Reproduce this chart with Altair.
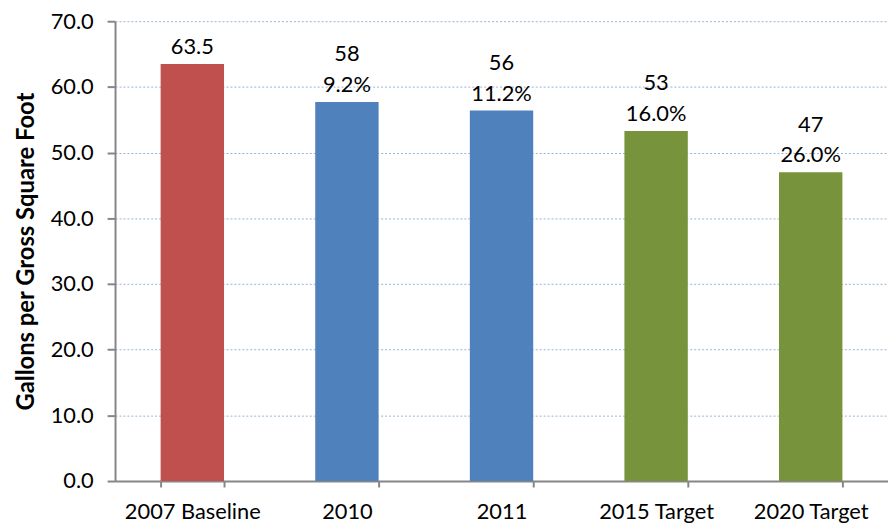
import altair as alt
import pandas as pd

categories = ["2007 Baseline", "2010", "2011", "2015 Target", "2020 Target"]
values = [63.5, 57.7, 56.4, 53.3, 47.0]
value_labels = ["63.5", "58", "56", "53", "47"]
pct_labels = ["", "9.2%", "11.2%", "16.0%", "26.0%"]
colors = ["#C0504D", "#4F81BD", "#4F81BD", "#77933C", "#77933C"]

lower = [p if p else v for v, p in zip(value_labels, pct_labels)]
upper = [v if p else "" for v, p in zip(value_labels, pct_labels)]
df = pd.DataFrame({"cat": categories, "val": values, "lower": lower, "upper": upper,
                   "color": colors})

FONT = "Lato"
FS = 22

x = alt.X("cat:N", sort=categories, title=None,
          scale=alt.Scale(paddingInner=0.59, paddingOuter=0.295),
          axis=alt.Axis(labelAngle=0, labelFontSize=FS, labelFont=FONT, labelColor="#000000",
                        labelPadding=15, tickBand="extent", tickSize=6, tickColor="#868686",
                        domainColor="#868686", domainWidth=2, tickWidth=2, grid=False))
y = alt.Y("val:Q", title="Gallons per Gross Square Foot",
          scale=alt.Scale(domain=[0, 70], nice=False),
          axis=alt.Axis(values=[0, 10, 20, 30, 40, 50, 60, 70], format=".1f",
                        labelFontSize=FS, labelFont=FONT, labelColor="#000000", labelPadding=14,
                        tickSize=8, tickColor="#868686", tickWidth=2, domainColor="#868686",
                        domainWidth=2, grid=True, gridColor="#95B3D7", gridDash=[2, 2],
                        gridWidth=1, titleFont=FONT, titleFontSize=24, titleFontWeight="bold",
                        titleColor="#000000", titlePadding=12))

base = alt.Chart(df)
bars = base.mark_bar().encode(x=x, y=y, color=alt.Color("color:N", scale=None))
text_lower = base.mark_text(baseline="bottom", dy=-5, fontSize=FS, font=FONT,
                            color="#000000").encode(
    x=alt.X("cat:N", sort=categories), y="val:Q", text="lower:N")
text_upper = base.mark_text(baseline="bottom", dy=-36, fontSize=FS, font=FONT,
                            color="#000000").encode(
    x=alt.X("cat:N", sort=categories), y="val:Q", text="upper:N")

chart = (bars + text_lower + text_upper).properties(
    width=780, height=464,
    autosize=alt.AutoSizeParams(type="none"),
    padding={"left": 108, "top": 11, "right": 0, "bottom": 40},
).configure_view(stroke=None)

chart.save("out.html", embed_options={"renderer": "svg", "actions": False})
